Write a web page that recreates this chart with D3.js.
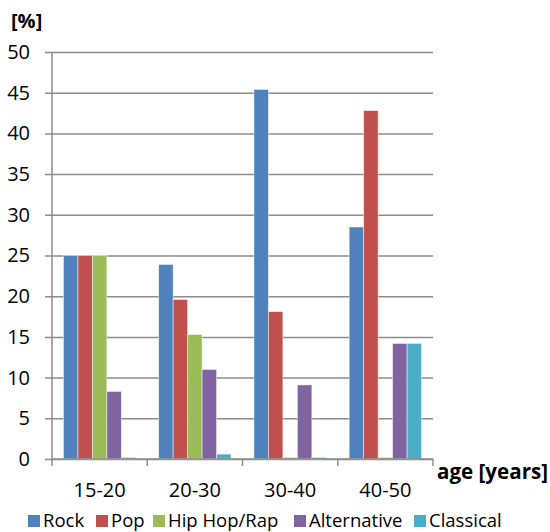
<!DOCTYPE html>
<html><head><meta charset="utf-8">
<script src="https://cdn.jsdelivr.net/npm/d3@7"></script>
<style>body{margin:0;background:#fff;}svg{display:block;font-family:"Open Sans","Noto Sans",sans-serif;}</style>
</head><body>
<svg id="c" width="550" height="532"></svg>
<script>
const categories = ["15-20","20-30","30-40","40-50"];
const seriesNames = ["Rock","Pop","Hip Hop/Rap","Alternative","Classical"];
const rock = [25, 23.9, 45.4, 28.5];
const pop = [25, 19.6, 18.1, 42.8];
const hiphop = [25, 15.3, 0.2, 0.2];
const alternative = [8.3, 11.0, 9.1, 14.2];
const classical = [0.2, 0.6, 0.2, 14.2];
const colors = ["#4F81BD","#C0504D","#9BBB59","#8064A2","#4BACC6"];
const yTicks = [0,5,10,15,20,25,30,35,40,45,50];

const series = [rock, pop, hiphop, alternative, classical];
const svg = d3.select("#c");
const pL = 52, pR = 433, pT = 52, pB = 459;

const x = d3.scaleBand().domain(categories).range([pL, pR]).paddingInner(0.24).paddingOuter(0.12);
const xs = d3.scaleBand().domain(seriesNames).range([0, x.bandwidth()]);
const y = d3.scaleLinear().domain([0,50]).range([pB, pT]);

// gridlines + y ticks
const yAxis = d3.axisLeft(y).tickValues(yTicks).tickSize(pR-pL+7).tickPadding(15).tickFormat(d3.format("d"));
const gy = svg.append("g").attr("transform", `translate(${pR},0)`).call(yAxis);
gy.select(".domain").remove();
gy.selectAll(".tick line").attr("stroke","#8c8c8c").attr("stroke-width",1.5);
gy.selectAll(".tick text").attr("font-size",20).attr("fill","#000").attr("font-family","'Open Sans',sans-serif");

// y axis line
svg.append("line").attr("x1",pL).attr("x2",pL).attr("y1",pT).attr("y2",pB).attr("stroke","#8c8c8c").attr("stroke-width",1.5);

// bars
categories.forEach((c,i)=>{
  series.forEach((s,j)=>{
    svg.append("rect")
      .attr("x", x(c)+xs(seriesNames[j]))
      .attr("y", y(s[i]))
      .attr("width", xs.bandwidth())
      .attr("height", y(0)-y(s[i]))
      .attr("fill", colors[j])
      .attr("stroke", "rgba(255,255,255,0.6)").attr("stroke-width",0.8);
  });
});

// x axis
const xAxisStep = (pR-pL)/categories.length;
const gx = svg.append("g").attr("transform",`translate(0,${pB})`);
gx.append("line").attr("x1",pL).attr("x2",pR).attr("y1",0).attr("y2",0).attr("stroke","#8c8c8c").attr("stroke-width",1.5);
d3.range(categories.length+1).forEach(k=>{
  gx.append("line").attr("x1",pL+k*xAxisStep).attr("x2",pL+k*xAxisStep).attr("y1",0).attr("y2",7).attr("stroke","#8c8c8c").attr("stroke-width",1.5);
});
categories.forEach(c=>{
  gx.append("text").attr("x", x(c)+x.bandwidth()/2).attr("y",38).attr("text-anchor","middle").attr("font-size",20).text(c);
});

svg.append("text").attr("x",11).attr("y",28).attr("font-size",20).attr("font-weight","bold").text("[%]");
svg.append("text").attr("x",437).attr("y",479).attr("font-size",20.5).attr("font-weight","bold").attr("textLength",111).text("age [years]");

// legend
const legendX = [28, 96, 153, 294, 414];
const lg = svg.append("g");
seriesNames.forEach((n,j)=>{
  lg.append("rect").attr("x",legendX[j]).attr("y",515).attr("width",12).attr("height",12).attr("fill",colors[j]);
  lg.append("text").attr("x",legendX[j]+15).attr("y",527).attr("font-size",18.5).text(n);
});
</script>
</body></html>
